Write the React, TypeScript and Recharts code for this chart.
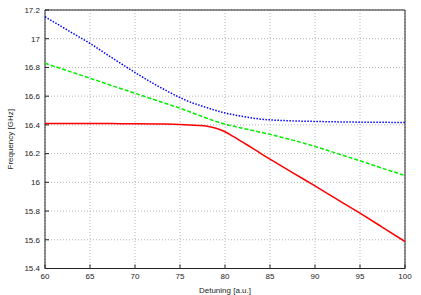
import { CartesianGrid, Line, LineChart, ReferenceArea, XAxis, YAxis } from 'recharts';

// detuning sample points (a.u.)
const detuning = [60, 62.5, 65, 67.5, 70, 72.5, 75, 76, 77, 78, 79, 80, 81, 82, 83, 84, 85, 87.5, 90, 92.5, 95, 97.5, 100];

// frequencies in GHz
const lower = [16.41, 16.41, 16.41, 16.409, 16.408, 16.406, 16.403, 16.4, 16.396, 16.39, 16.377, 16.352, 16.316, 16.278, 16.24, 16.2, 16.162, 16.068, 15.975, 15.88, 15.785, 15.687, 15.588];
const middle = [16.829, 16.777, 16.725, 16.672, 16.62, 16.568, 16.516, 16.493, 16.469, 16.446, 16.424, 16.405, 16.39, 16.376, 16.362, 16.348, 16.334, 16.294, 16.25, 16.2, 16.15, 16.098, 16.047];
const upper = [17.153, 17.06, 16.967, 16.865, 16.765, 16.672, 16.59, 16.562, 16.54, 16.52, 16.5, 16.483, 16.47, 16.458, 16.448, 16.44, 16.435, 16.428, 16.424, 16.421, 16.419, 16.418, 16.416];

const xTicks = [60, 65, 70, 75, 80, 85, 90, 95, 100];
const yTicks = [15.4, 15.6, 15.8, 16, 16.2, 16.4, 16.6, 16.8, 17, 17.2];

const data = detuning.map((x, i) => ({ x, lower: lower[i], middle: middle[i], upper: upper[i] }));

const FONT = 'Liberation Sans, Arial, sans-serif';
const tickStyle = { fontSize: 8, fill: '#222', fontFamily: FONT };

export default function App() {
  return (
    <div style={{ position: 'absolute', left: 0, top: 0, width: 421, height: 295, background: '#fff' }}>
      <LineChart width={421} height={295} data={data} margin={{ top: 10, right: 16, left: 0, bottom: 0 }}>
        <CartesianGrid stroke="#b4b4b4" strokeDasharray="1 2" />
        <XAxis
          dataKey="x"
          type="number"
          domain={[60, 100]}
          ticks={xTicks}
          height={26.5}
          tick={tickStyle}
          tickSize={-4}
          tickMargin={9}
          axisLine={false}
          tickLine={{ stroke: '#222' }}
          label={{ value: 'Detuning [a.u.]', position: 'insideBottom', offset: 2, style: { fontSize: 8, fill: '#222', fontFamily: FONT } }}
        />
        <XAxis
          xAxisId="top"
          orientation="top"
          dataKey="x"
          type="number"
          domain={[60, 100]}
          ticks={xTicks}
          height={0}
          tick={false}
          tickSize={-4}
          axisLine={false}
          tickLine={{ stroke: '#222' }}
        />
        <YAxis
          type="number"
          domain={[15.4, 17.2]}
          ticks={yTicks}
          width={45}
          tick={tickStyle}
          tickSize={-4}
          tickMargin={9}
          axisLine={false}
          tickLine={{ stroke: '#222' }}
          label={{ value: 'Frequency [GHz]', angle: -90, position: 'insideLeft', offset: 10, style: { fontSize: 8, fill: '#222', fontFamily: FONT, textAnchor: 'middle' } }}
        />
        <YAxis
          yAxisId="right"
          orientation="right"
          type="number"
          domain={[15.4, 17.2]}
          ticks={yTicks}
          width={0}
          tick={false}
          tickSize={-4}
          axisLine={false}
          tickLine={{ stroke: '#222' }}
        />
        <ReferenceArea x1={60} x2={100} y1={15.4} y2={17.2} fill="none" stroke="#222" strokeWidth={1} />
        <Line type="monotone" dataKey="lower" stroke="#ff0000" strokeWidth={1.5} dot={false} isAnimationActive={false} />
        <Line type="monotone" dataKey="middle" stroke="#00ee00" strokeWidth={1.5} strokeDasharray="4 2" dot={false} isAnimationActive={false} />
        <Line type="monotone" dataKey="upper" stroke="#0000ff" strokeWidth={1.5} strokeDasharray="1.5 1.5" dot={false} isAnimationActive={false} />
      </LineChart>
    </div>
  );
}
